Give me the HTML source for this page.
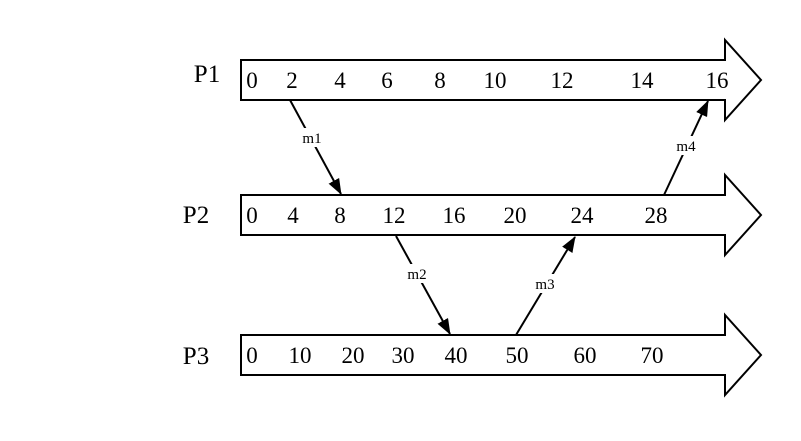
<!DOCTYPE html>
<html><head><style>body{margin:0;background:#fff}</style></head><body>
<svg width="801" height="436" xmlns="http://www.w3.org/2000/svg" font-family="Liberation Serif, serif">
<defs><marker id="a" markerWidth="16" markerHeight="12" refX="15" refY="6" orient="auto" markerUnits="userSpaceOnUse"><path d="M0,0 L16,6 L0,12 Z" fill="#000"/></marker></defs>
<g fill="#fff" stroke="#000" stroke-width="2">
<path d="M241,60 H725 V40 L761,80 L725,120 V100 H241 Z"/>
<path d="M241,195 H725 V175 L761,215 L725,255 V235 H241 Z"/>
<path d="M241,335 H725 V315 L761,355 L725,395 V375 H241 Z"/>
</g>
<g font-size="25" text-anchor="middle">
<text x="207" y="82">P1</text><text x="196" y="223">P2</text><text x="196" y="364">P3</text>
</g>
<g font-size="23" text-anchor="middle">
<text x="252" y="88">0</text><text x="292" y="88">2</text><text x="340" y="88">4</text><text x="387" y="88">6</text><text x="440" y="88">8</text><text x="495" y="88">10</text><text x="562" y="88">12</text><text x="642" y="88">14</text><text x="717" y="88">16</text>
<text x="252" y="223">0</text><text x="293" y="223">4</text><text x="340" y="223">8</text><text x="394" y="223">12</text><text x="454" y="223">16</text><text x="515" y="223">20</text><text x="582" y="223">24</text><text x="656" y="223">28</text>
<text x="252" y="363">0</text><text x="300" y="363">10</text><text x="353" y="363">20</text><text x="403" y="363">30</text><text x="456" y="363">40</text><text x="517" y="363">50</text><text x="585" y="363">60</text><text x="652" y="363">70</text>
</g>
<g stroke="#000" stroke-width="2" marker-end="url(#a)">
<line x1="290" y1="100" x2="341" y2="194"/>
<line x1="396" y1="236" x2="450" y2="334"/>
<line x1="516" y1="335" x2="575" y2="237"/>
<line x1="664" y1="195" x2="708" y2="101"/>
</g>
<g font-size="15" text-anchor="middle">
<rect x="297" y="128" width="30" height="19" fill="#fff"/><text x="312" y="143">m1</text>
<rect x="402" y="264" width="30" height="19" fill="#fff"/><text x="417" y="279">m2</text>
<rect x="530" y="274" width="30" height="19" fill="#fff"/><text x="545" y="289">m3</text>
<rect x="671" y="136" width="30" height="19" fill="#fff"/><text x="686" y="151">m4</text>
</g>
</svg>
</body></html>
